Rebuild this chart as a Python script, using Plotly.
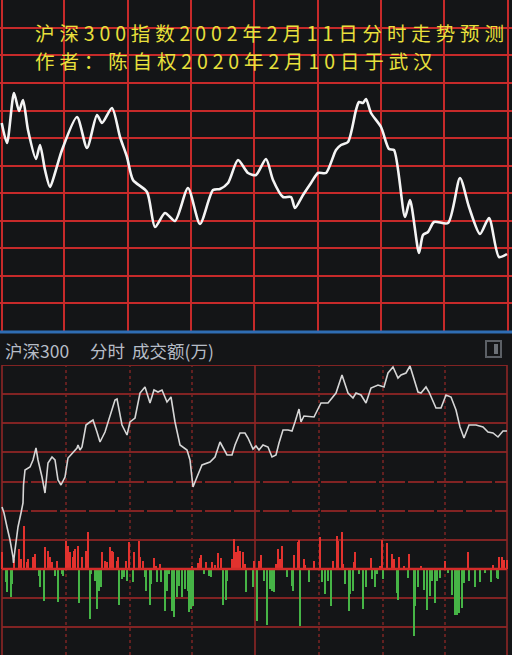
import plotly.graph_objects as go

# ---------------- data ----------------
# Upper panel: predicted intraday curve (x = time position, value = index level)
pred_t = [1.7, 7, 14, 19, 23, 28, 36, 40, 45, 50, 55, 62, 77, 87, 97, 102, 112, 120, 127, 133,
          147, 155, 165, 175, 188, 200, 213, 220, 228, 238, 248, 256, 266, 273, 283, 291, 295,
          303, 311, 318, 326, 336, 341, 348, 356, 359, 363, 366, 371, 381, 389, 394, 405, 410,
          419, 423, 428, 434, 448, 460, 469, 480, 489, 499, 507]
pred_v = [4008, 3988, 4038, 4020, 4031, 4001, 3972, 3986, 3961, 3944, 3958, 3981, 4014, 3983,
          4016, 4008, 4023, 3994, 3974, 3951, 3939, 3904, 3918, 3910, 3943, 3907, 3941, 3942,
          3948, 3971, 3958, 3956, 3972, 3951, 3934, 3934, 3923, 3936, 3948, 3958, 3958, 3981,
          3986, 3989, 4021, 4029, 4028, 4032, 4018, 4004, 3982, 3981, 3914, 3931, 3878, 3896,
          3899, 3909, 3908, 3953, 3924, 3897, 3913, 3874, 3877]

# Lower panel: actual intraday index line
act_t = [2, 4, 7, 10, 13, 13.5, 15, 17, 18, 21, 23, 23.5, 25, 30, 33, 36, 38, 42, 45, 48, 52, 55,
         58, 61, 65, 68, 73, 77, 78, 80, 82, 86, 90, 93, 97, 100, 105, 110, 115, 117, 122, 127,
         130, 135, 140, 145, 150, 154, 158, 162, 167, 171, 175, 180, 187, 190, 193, 197, 202,
         210, 215, 220, 223, 227, 232, 235, 240, 245, 248, 253, 256, 259, 263, 268, 272, 276,
         279, 283, 288, 292, 295, 299, 301, 304, 314, 318, 321, 328, 336, 342, 348, 353, 356,
         361, 366, 371, 378, 384, 388, 393, 398, 401, 406, 410, 414, 418, 421, 426, 429, 436,
         441, 446, 451, 456, 460, 464, 469, 476, 483, 488, 493, 498, 503, 507]
act_v = [3893, 3887, 3873, 3860, 3843, 3837, 3850, 3863, 3873, 3887, 3897, 3915, 3930, 3933, 3940,
         3952, 3940, 3923, 3907, 3937, 3943, 3940, 3920, 3915, 3923, 3942, 3948, 3952, 3955, 3950,
         3953, 3975, 3978, 3980, 3968, 3958, 3968, 3983, 4000, 4001, 3975, 3965, 3978, 3982, 4007,
         4013, 3997, 4010, 4008, 4010, 3998, 4003, 3978, 3955, 3950, 3940, 3913, 3923, 3935, 3938,
         3943, 3958, 3952, 3945, 3945, 3955, 3967, 3967, 3962, 3951, 3954, 3950, 3955, 3953, 3943,
         3945, 3957, 3970, 3970, 3969, 3978, 3991, 3978, 3984, 3983, 3992, 3997, 3997, 4007, 4025,
         4007, 4002, 4007, 4005, 3997, 4012, 4015, 4013, 4027, 4033, 4022, 4025, 4027, 4034, 4020,
         4008, 4007, 4013, 4008, 3992, 3992, 4005, 4003, 3990, 3973, 3962, 3975, 3975, 3973, 3968,
         3967, 3963, 3969, 3969]

# Turnover bars: up (red) and down (green)
up_t = [2, 14, 19, 21, 24, 27, 28, 33, 35, 45, 48, 50, 52, 57, 66, 68, 70, 73, 74, 75, 78, 82, 86,
        88, 102, 105, 107, 110, 112, 113, 117, 118, 126, 129, 134, 139, 140, 143, 154, 156, 160,
        192, 198, 200, 201, 206, 212, 215, 218, 221, 232, 234, 236, 238, 240, 243, 245, 254, 259,
        261, 276, 278, 280, 282, 294, 298, 299, 304, 305, 314, 320, 333, 337, 338, 342, 343, 354,
        355, 371, 380, 382, 387, 392, 394, 399, 404, 409, 421, 445, 468, 493, 499, 502, 504, 507]
up_v = [17, 10, 20, 10, 43, 7, 10, 12, 15, 22, 18, 12, 7, 8, 28, 23, 17, 12, 18, 20, 23, 12, 18,
        37, 17, 8, 7, 22, 18, 17, 8, 12, 8, 27, 17, 28, 12, 8, 11, 3, 5, 3, 6, 11, 14, 7, 7, 4, 16,
        11, 10, 30, 17, 23, 18, 17, 5, 8, 8, 14, 5, 20, 10, 23, 14, 27, 29, 10, 4, 8, 32, 8, 33,
        28, 37, 5, 7, 17, 11, 3, 29, 26, 15, 10, 12, 3, 15, 3, 8, 17, 4, 12, 12, 9, 9]
dn_t = [6, 7, 11, 12, 39, 40, 44, 55, 58, 62, 63, 79, 90, 91, 95, 97, 99, 101, 119, 122, 124, 127,
        133, 145, 146, 150, 151, 157, 161, 165, 167, 169, 172, 174, 177, 179, 182, 185, 188, 189,
        191, 193, 204, 209, 211, 223, 226, 227, 246, 253, 257, 264, 267, 270, 272, 274, 287, 292,
        293, 300, 309, 322, 325, 328, 331, 345, 349, 350, 353, 359, 363, 366, 372, 375, 377, 383,
        397, 398, 408, 414, 415, 418, 424, 427, 430, 432, 435, 437, 440, 448, 452, 455, 457, 459,
        462, 464, 469, 475, 480, 485, 491, 497, 498]
dn_v = [-13, -23, -28, -15, -7, -18, -32, -7, -33, -5, -7, -34, -50, -5, -12, -40, -22, -18, -36,
        -10, -8, -12, -13, -8, -22, -36, -15, -13, -13, -42, -22, -5, -42, -48, -28, -17, -28, -20,
        -22, -43, -40, -37, -5, -7, -8, -36, -31, -12, -23, -18, -52, -12, -56, -20, -22, -23, -8,
        -17, -22, -57, -13, -13, -25, -12, -37, -15, -42, -25, -22, -5, -40, -18, -10, -18, -5,
        -10, -24, -31, -9, -67, -37, -18, -21, -41, -27, -12, -34, -12, -9, -4, -26, -46, -46,
        -44, -39, -14, -12, -18, -13, -4, -13, -9, -10]

# Grid positions
top_vgrid = [1.5, 64, 128, 191, 254, 318, 381, 444, 507.5]
top_hgrid = [4130, 4103, 4076, 4048, 4020, 3993, 3965, 3938, 3910, 3883, 3855, 3828]
bot_vdot = [66, 130, 192, 319, 383, 445]
bot_vsolid = [2, 255, 507]
bot_hsolid = [4035, 4006, 3977, 3948, 3860, 3802, 3773]
bot_hdash = [3918, 3889]

title1 = "沪深300指数2002年2月11日分时走势预测"
title2 = "作者：陈自权2020年2月10日于武汉"
header_parts = [("沪深300", 3), ("分时", 88), ("成交额(万)", 130)]

# ---------------- figure ----------------
W, H = 512, 655
BG = "#141517"
def px(x):
    return x / W
def py(y):
    return 1 - y / H

fig = go.Figure()

fig.add_trace(go.Scatter(x=pred_t, y=pred_v, mode="lines", xaxis="x", yaxis="y",
                         line=dict(color="#f4f4f4", width=2.6, shape="spline", smoothing=0.7),
                         hoverinfo="skip", showlegend=False))

fig.add_trace(go.Bar(x=up_t, y=up_v, xaxis="x2", yaxis="y2", width=1.6,
                     marker=dict(color="#e2322e", line=dict(width=0)), showlegend=False))
fig.add_trace(go.Bar(x=dn_t, y=dn_v, xaxis="x2", yaxis="y2", width=1.6,
                     marker=dict(color="#46b446", line=dict(width=0)), showlegend=False))

fig.add_trace(go.Scatter(x=act_t, y=act_v, mode="lines", xaxis="x2", yaxis="y3",
                         line=dict(color="#d6d6d6", width=1.6), hoverinfo="skip", showlegend=False))

top_dom = [py(331), 1]
bot_dom = [0, py(365)]

fig.update_layout(
    width=W, height=H, margin=dict(l=0, r=0, t=0, b=0),
    paper_bgcolor=BG, plot_bgcolor=BG, barmode="overlay", bargap=0,
    xaxis=dict(domain=[0, 1], range=[0, W], anchor="y", tickvals=top_vgrid, showgrid=True,
               gridcolor="#c62a2a", gridwidth=1.5, showticklabels=False, zeroline=False,
               showline=False, ticks=""),
    yaxis=dict(domain=top_dom, range=[3800, 4131], anchor="x", tickvals=top_hgrid, showgrid=True,
               gridcolor="#c62a2a", gridwidth=1.5, showticklabels=False, zeroline=False,
               showline=False, ticks=""),
    xaxis2=dict(domain=[0, 1], range=[0, W], anchor="y2", showgrid=False, showticklabels=False,
                zeroline=False, showline=False, ticks=""),
    yaxis2=dict(domain=bot_dom, range=[-86, 204], anchor="x2", showgrid=False,
                showticklabels=False, zeroline=False, showline=False, ticks=""),
    yaxis3=dict(overlaying="y2", range=[3745, 4035], anchor="x2", showgrid=False,
                showticklabels=False, zeroline=False, showline=False, ticks=""),
)

shapes = []
grid_c = "#a62828"
for v in bot_hsolid:
    shapes.append(dict(type="line", xref="x2", yref="y3", x0=2, x1=507, y0=v, y1=v,
                       line=dict(color=grid_c, width=1.6), layer="below"))
for v in bot_hdash:
    shapes.append(dict(type="line", xref="x2", yref="y3", x0=2, x1=507, y0=v, y1=v,
                       line=dict(color=grid_c, width=1.6, dash="26px,3px"), layer="below"))
for x in bot_vdot:
    shapes.append(dict(type="line", xref="x2", yref="y3", x0=x, x1=x, y0=3745, y1=4035,
                       line=dict(color="#7c2424", width=1.5, dash="dot"), layer="below"))
for x in bot_vsolid:
    shapes.append(dict(type="line", xref="x2", yref="y3", x0=x, x1=x, y0=3745, y1=4035,
                       line=dict(color="#8e2626", width=1.6), layer="below"))
# volume baseline
shapes.append(dict(type="line", xref="x2", yref="y2", x0=2, x1=507, y0=0, y1=0,
                   line=dict(color="#d42c2a", width=2.6), layer="above"))
# blue separator
shapes.append(dict(type="rect", xref="paper", yref="paper", x0=0, x1=1, y0=py(333.6), y1=py(330.6),
                   fillcolor="#2f6db3", line=dict(width=0)))
# header icon
shapes.append(dict(type="rect", xref="paper", yref="paper", x0=px(486), x1=px(501),
                   y0=py(357), y1=py(341), line=dict(color="#5c6066", width=2)))
shapes.append(dict(type="rect", xref="paper", yref="paper", x0=px(494), x1=px(498),
                   y0=py(354), y1=py(344), fillcolor="#6c7076", line=dict(width=0)))
fig.update_layout(shapes=shapes)

sp = "\u2005"
ann = []
ann.append(dict(text=sp.join(title1), xref="paper", yref="paper", x=px(34), y=py(32.5),
                xanchor="left", yanchor="middle", showarrow=False, borderpad=0,
                font=dict(family="Noto Sans CJK SC", size=19.5, color="#e8e03c")))
ann.append(dict(text=sp.join(title2), xref="paper", yref="paper", x=px(34), y=py(60),
                xanchor="left", yanchor="middle", showarrow=False, borderpad=0,
                font=dict(family="Noto Sans CJK SC", size=19.5, color="#e8e03c")))
for txt, xp in header_parts:
    ann.append(dict(text=txt, xref="paper", yref="paper", x=px(xp), y=py(350),
                    xanchor="left", yanchor="middle", showarrow=False,
                    font=dict(family="Noto Sans CJK SC", size=17.5, color="#b6bcc6")))
fig.update_layout(annotations=ann)

fig.write_html("out.html", config={"displayModeBar": False},
               post_script="document.body.style.margin='0';document.body.style.overflow='hidden';")
